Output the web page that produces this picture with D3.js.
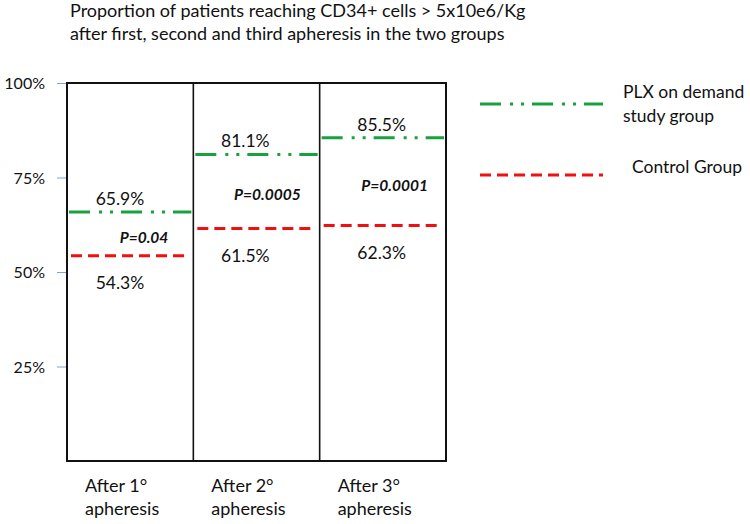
<!DOCTYPE html>
<html><head><meta charset="utf-8">
<script src="https://cdn.jsdelivr.net/npm/d3@7/dist/d3.min.js"></script>
<style>body{margin:0;background:#fff;} text{font-family:Lato,"Open Sans",sans-serif;}</style>
</head><body>
<svg id="c" width="750" height="524"></svg>
<script>
const categories = ["After 1°|apheresis", "After 2°|apheresis", "After 3°|apheresis"];
const plxValues = [65.9, 81.1, 85.5];
const controlValues = [54.3, 61.5, 62.3];
const pValues = ["P=0.04", "P=0.0005", "P=0.0001"];
const yTicks = [25, 50, 75, 100];
const seriesNames = ["PLX on demand|study group", "Control Group"];
const titleLines = ["Proportion of patients reaching CD34+ cells > 5x10e6/Kg", "after first, second and third apheresis in the two groups"];

// layout (not data)
const valueLabelDx = [53, 52, 62];
const pLabelDx = [77, 74, 75];

const GREEN = "#18a23e", RED = "#f20f0f";
const svg = d3.select("#c");
const x = d3.scaleBand().domain(categories).range([67, 446]).padding(0);
const y = d3.scaleLinear().domain([0, 100]).range([461, 83]);

// title
svg.append("g").selectAll("text").data(titleLines).join("text")
  .attr("x", 70).attr("y", (d, i) => 17 + i * 23)
  .attr("font-size", 18).attr("fill", "#111").text(d => d);

// y axis
const ax = svg.append("g").attr("transform", `translate(${x.range()[0]},0)`)
  .call(d3.axisLeft(y).tickValues(yTicks).tickFormat(d => d + "%").tickSize(10).tickPadding(12));
ax.select(".domain").remove();
ax.selectAll(".tick line").attr("stroke", "#7aa7d6").attr("stroke-width", 1);
ax.selectAll(".tick text").attr("font-size", 16).attr("fill", "#111").attr("font-family", "Lato,sans-serif").attr("dy", "0.35em");

// frame
svg.append("rect").attr("x", x.range()[0]).attr("y", y(100))
  .attr("width", x.range()[1] - x.range()[0]).attr("height", y(0) - y(100))
  .attr("fill", "none").attr("stroke", "#111").attr("stroke-width", 2);
svg.append("g").selectAll("line").data(categories.slice(1)).join("line")
  .attr("x1", d => x(d)).attr("x2", d => x(d)).attr("y1", y(100)).attr("y2", y(0))
  .attr("stroke", "#111").attr("stroke-width", 1.6);

const bw = x.bandwidth();
// PLX lines
svg.append("g").selectAll("line").data(plxValues).join("line")
  .attr("x1", (d, i) => x(categories[i]) + 2).attr("x2", (d, i) => x(categories[i]) + bw - 2)
  .attr("y1", d => y(d)).attr("y2", d => y(d))
  .attr("stroke", GREEN).attr("stroke-width", 3).attr("stroke-dasharray", "21,9,3,8,3,8");
// Control lines
svg.append("g").selectAll("line").data(controlValues).join("line")
  .attr("x1", (d, i) => x(categories[i]) + 4).attr("x2", (d, i) => x(categories[i]) + bw - 8)
  .attr("y1", d => y(d)).attr("y2", d => y(d))
  .attr("stroke", RED).attr("stroke-width", 3).attr("stroke-dasharray", "11,6");

// value labels
svg.append("g").selectAll("text").data(plxValues).join("text")
  .attr("x", (d, i) => x(categories[i]) + valueLabelDx[i]).attr("y", d => y(d) - 7)
  .attr("text-anchor", "middle").attr("font-size", 17.5).attr("fill", "#111").text(d => d.toFixed(1) + "%");
svg.append("g").selectAll("text").data(controlValues).join("text")
  .attr("x", (d, i) => x(categories[i]) + valueLabelDx[i]).attr("y", d => y(d) + 33)
  .attr("text-anchor", "middle").attr("font-size", 17.5).attr("fill", "#111").text(d => d.toFixed(1) + "%");
// p-values
svg.append("g").selectAll("text").data(pValues).join("text")
  .attr("x", (d, i) => x(categories[i]) + pLabelDx[i])
  .attr("y", (d, i) => (y(plxValues[i]) + y(controlValues[i])) / 2 + 9)
  .attr("text-anchor", "middle").attr("font-size", 15.5).attr("font-weight", "bold").attr("font-style", "italic")
  .attr("fill", "#111").text(d => d);

// category labels
const cl = svg.append("g").selectAll("text").data(categories).join("text")
  .attr("x", d => x(d) + 18).attr("y", 492).attr("font-size", 18).attr("fill", "#111");
cl.selectAll("tspan").data(d => d.split("|")).join("tspan")
  .attr("x", function() { return d3.select(this.parentNode).attr("x"); })
  .attr("dy", (d, i) => i === 0 ? 0 : 23).text(d => d);

// legend
const lg = svg.append("g");
const legY = [104, 175];
lg.selectAll("line").data(seriesNames).join("line")
  .attr("x1", 480).attr("x2", 603).attr("y1", (d, i) => legY[i]).attr("y2", (d, i) => legY[i])
  .attr("stroke", (d, i) => i === 0 ? GREEN : RED).attr("stroke-width", 3)
  .attr("stroke-dasharray", (d, i) => i === 0 ? "21,9,3,8,3,8" : "11,6");
const lt = lg.selectAll("text").data(seriesNames).join("text")
  .attr("x", (d, i) => i === 0 ? 623 : 632).attr("y", (d, i) => i === 0 ? 98 : 173)
  .attr("font-size", 17.5).attr("fill", "#111");
lt.selectAll("tspan").data(d => d.split("|")).join("tspan")
  .attr("x", function() { return d3.select(this.parentNode).attr("x"); })
  .attr("dy", (d, i) => i === 0 ? 0 : 24).text(d => d);
</script>
</body></html>
